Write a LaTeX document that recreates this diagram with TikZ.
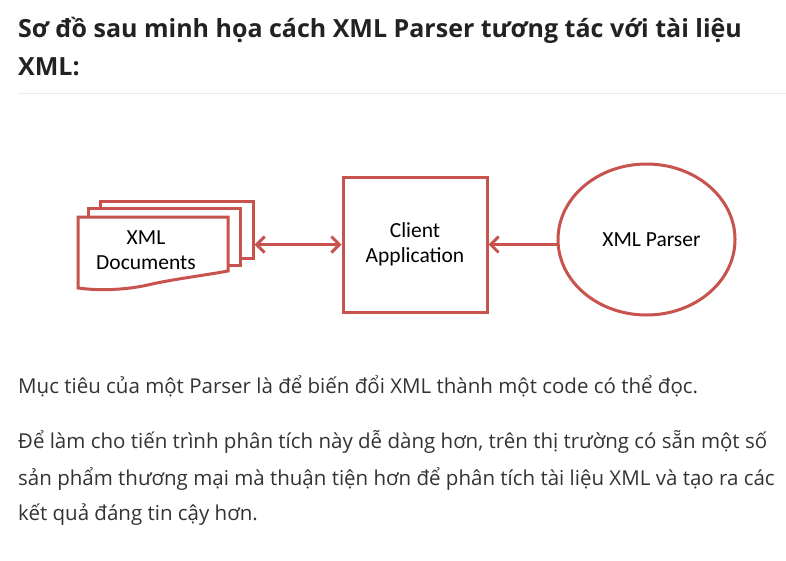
\documentclass[tikz,border=0pt]{standalone}
\usepackage{fontspec}
\setmainfont{Open Sans}
\newfontfamily\diagfont{Carlito}
\usetikzlibrary{arrows.meta,shapes.geometric}
\definecolor{rd}{RGB}{200,82,78}
\definecolor{headc}{RGB}{34,34,34}
\definecolor{bodyc}{RGB}{51,51,51}
\definecolor{sepc}{RGB}{234,234,234}
\tikzset{
  headtxt/.style={anchor=base west, inner sep=0, text=headc, font=\fontsize{25}{30}\selectfont\bfseries},
  bodytxt/.style={anchor=base west, inner sep=0, text=bodyc, font=\fontsize{20.5}{24}\selectfont},
  sheet/.style={draw=rd, line width=3pt, fill=white, inner sep=0},
  lbl/.style={font=\diagfont\fontsize{21.5}{25}\selectfont, align=center, text=black},
  tipb/.tip={Straight Barb[length=8pt,width=16pt,line width=3pt]},
  arr/.style={draw=rd, line width=3pt, -tipb},
  darr/.style={draw=rd, line width=3pt, tipb-tipb}
}
\begin{document}
\begin{tikzpicture}[x=1pt,y=-1pt]
\useasboundingbox[fill=white] (0,0) rectangle (786,560);
% heading
\node[headtxt] (h1) at (18,37) {Sơ đồ sau minh họa cách XML Parser tương tác với tài liệu};
\node[headtxt] (h2) at (18,75) {XML:};
\coordinate (sepL) at (18,93);
\coordinate (sepR) at (786,93);
\draw[sepc, line width=1pt] (sepL) -- (sepR);
% documents (three sheets)
\node[sheet, minimum width=153pt, minimum height=57pt] (doc3) at (176.5,229.5) {};
\node[sheet, minimum width=152pt, minimum height=57pt] (doc2) at (164,236.5) {};
\draw[sheet] (78,217) -- (228,217) -- (228,271)
  .. controls (200,276) and (175,279) .. (152,284)
  .. controls (128,290) and (100,291) .. (78,288) -- cycle;
\node[lbl] (doctext) at (146,250) {XML\\Documents};
% client application
\node[sheet, minimum width=144pt, minimum height=135pt, lbl] (client) at (415,244.5) {Client\\Application};
% parser
\node[draw=rd, line width=3pt, ellipse, minimum width=177pt, minimum height=151pt, inner sep=0, lbl] (parser) at (646.5,239.5) {\hspace*{10pt}XML Parser};
% connectors
\draw[darr] (doc3.east |- client.west) -- (client.west);
\draw[arr] (parser.west |- client.east) -- (client.east);
% body text
\node[bodytxt] (p1) at (18,393) {Mục tiêu của một Parser là để biến đổi XML thành một code có thể đọc.};
\node[bodytxt] (p2) at (18,448) {Để làm cho tiến trình phân tích này dễ dàng hơn, trên thị trường có sẵn một số};
\node[bodytxt] (p3) at (18,485) {sản phẩm thương mại mà thuận tiện hơn để phân tích tài liệu XML và tạo ra các};
\node[bodytxt] (p4) at (18,520) {kết quả đáng tin cậy hơn.};
\end{tikzpicture}
\end{document}
